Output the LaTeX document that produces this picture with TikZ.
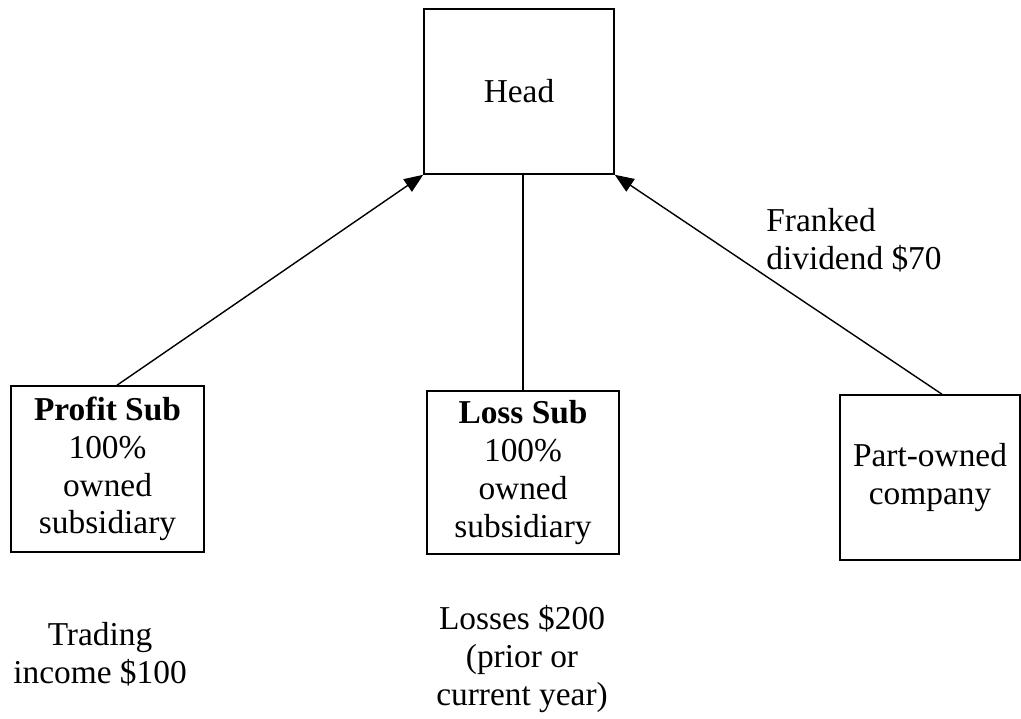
\documentclass[tikz,border=0pt]{standalone}
\usepackage{fontspec}
\setmainfont{Liberation Serif}
\usepackage{tikz}
\usetikzlibrary{arrows.meta,positioning,calc}

\tikzset{
  entity/.style={draw,line width=0.9pt,inner sep=0pt,align=center,
    font=\fontsize{19}{21.5}\selectfont},
  note/.style={inner sep=0pt,font=\fontsize{19}{21.5}\selectfont},
  flow/.style={line width=0.8pt,-{Triangle[length=0.38cm,width=0.3cm]}},
  link/.style={line width=0.8pt}
}

\begin{document}
\begin{tikzpicture}[x=0.02cm,y=-0.02cm]
  \useasboundingbox (0,0) rectangle (1021,719);
  % companies
  \node [entity,minimum width=3.8cm,minimum height=3.3cm] (head) at (519,91.5) {Head};
  \node [entity,minimum width=3.86cm,minimum height=3.32cm] (profit) at (107.5,469)
    {\textbf{Profit Sub}\\100\%\\owned\\subsidiary};
  \node [entity,minimum width=3.84cm,minimum height=3.26cm] (loss) at (523,472.5)
    {\textbf{Loss Sub}\\100\%\\owned\\subsidiary};
  \node [entity,minimum width=3.6cm,minimum height=3.3cm] (part) at (930,477.5)
    {Part-owned\\company};
  % amounts
  \node [note,align=center] (trading) at (100,654) {Trading\\income \$100};
  \node [note,align=center] (losses) at (522,659) {Losses \$200\\(prior or\\current year)};
  \node [note,align=left,anchor=west] (dividend) at (766,240) {Franked\\dividend \$70};
  % connectors
  \draw [flow] ([xshift=0.19cm]profit.north) -- (head.south west);
  \draw [link] (loss.north) -- (loss.north |- head.south);
  \draw [flow] ([xshift=0.24cm]part.north) -- (head.south east);
\end{tikzpicture}
\end{document}
